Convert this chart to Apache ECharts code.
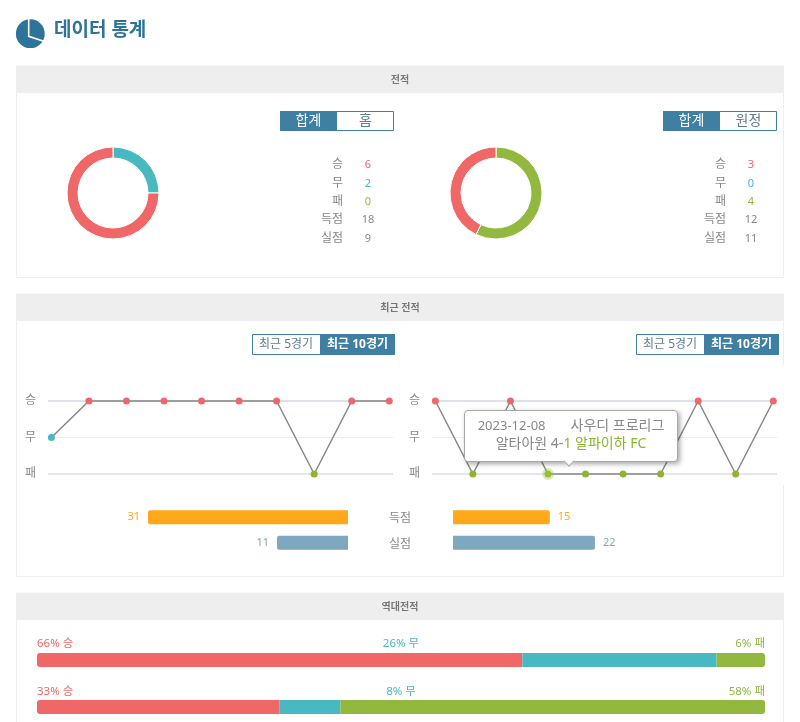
<!DOCTYPE html>
<html>
<head>
<meta charset="utf-8">
<title>데이터 통계</title>
<script src="https://cdn.jsdelivr.net/npm/echarts@6/dist/echarts.min.js"></script>
<style>
  html, body { margin: 0; padding: 0; background: #fff; }
  #main { width: 800px; height: 722px; }
</style>
</head>
<body>
<div id="main"></div>
<script>
// 전적
const statLabels = ['승', '무', '패', '득점', '실점'];
const homeStats = [6, 2, 0, 18, 9];
const awayStats = [3, 0, 4, 12, 11];

// 최근 전적 (0 패, 1 무, 2 승)
const formLabels = ['패', '무', '승'];
const homeForm = [1, 2, 2, 2, 2, 2, 2, 0, 2, 2];
const awayForm = [2, 0, 2, 0, 0, 0, 0, 2, 0, 2];
const goalLabels = ['득점', '실점'];
const homeGoals = [31, 11];
const awayGoals = [15, 22];

// 역대전적
const h2hWin = [66.67, 33.33];
const h2hDraw = [26.67, 8.34];
const h2hLoss = [6.66, 58.33];

const RED = '#ef6767';
const TEAL = '#48b8c1';
const GREEN = '#92b83f';
const DOT_GREEN = '#8db52e';
const ORANGE = '#ffa81a';
const STEEL = '#7da8bf';
const BLUE = '#3f7fa2';
const GRAY = '#888';
const FONT = '"Noto Sans", "Noto Sans CJK KR", sans-serif';
const formColors = [DOT_GREEN, TEAL, RED];

const chart = echarts.init(document.getElementById('main'));

function label(x, y, text, fill, size, align, weight) {
  return {
    type: 'text',
    silent: true,
    style: {
      x: x,
      y: y,
      text: text,
      fill: fill,
      font: (weight || 'normal') + ' ' + size + 'px ' + FONT,
      textAlign: align || 'center',
      textVerticalAlign: 'middle'
    }
  };
}

function box(x, y, width, height, fill, stroke) {
  return {
    type: 'rect',
    silent: true,
    shape: { x: x, y: y, width: width, height: height },
    style: { fill: fill, stroke: stroke || null, lineWidth: stroke ? 1 : 0 }
  };
}

function panel(top, bottom, title) {
  return [
    box(16.5, top, 767, bottom - top, '#fff', '#eeeeee'),
    box(16, top, 768, 27, '#eeeeee'),
    label(400, top + 14.5, title, '#777', 10, 'center', 'bold')
  ];
}

function tab(x, y, leftW, rightW, leftText, rightText, activeLeft, size) {
  const h = y === 111 ? 20 : 21;
  const parts = [box(x + 0.5, y + 0.5, leftW + rightW - 1, h - 1, '#fff', BLUE)];
  parts.push(activeLeft ? box(x, y, leftW, h, BLUE) : box(x + leftW, y, rightW, h, BLUE));
  parts.push(label(x + leftW / 2, y + h / 2, leftText, activeLeft ? '#fff' : '#5d7f92', size, 'center'));
  parts.push(label(x + leftW + rightW / 2, y + h / 2, rightText, activeLeft ? '#5d7f92' : '#fff', size, 'center', activeLeft ? 'normal' : 'bold'));
  return parts;
}

function statColumn(labelX, valueX, values) {
  const rows = [164, 183, 201, 219, 238];
  const colors = [RED, TEAL, GREEN, GRAY, GRAY];
  const parts = [];
  rows.forEach(function (y, i) {
    parts.push(label(labelX, y + 1, statLabels[i], GRAY, 12, 'right'));
    parts.push(label(valueX, y + 1, String(values[i]), colors[i], 11));
  });
  return parts;
}

function h2hRow(y, i) {
  return [
    label(37, y, Math.floor(h2hWin[i]) + '% 승', RED, 11.5, 'left'),
    label(401, y, Math.floor(h2hDraw[i]) + '% 무', TEAL, 11.5),
    label(765, y, Math.floor(h2hLoss[i]) + '% 패', GREEN, 11.5, 'right')
  ];
}

const graphics = [].concat(
  [
    { type: 'circle', silent: true, shape: { cx: 30.3, cy: 33.7, r: 14.4 }, style: { fill: '#2e739a' } },
    { type: 'polyline', silent: true, shape: { points: [[28.7, 17], [28.7, 36.3], [46, 42]] }, style: { fill: null, stroke: '#fff', lineWidth: 1.6 } },
    label(54, 31, '데이터 통계', '#2e739a', 19, 'left', 'bold')
  ],
  panel(66, 277.5, '전적'),
  panel(294, 576.5, '최근 전적'),
  panel(593, 730, '역대전적'),
  [box(782, 365, 3, 120, '#fff')],
  tab(280, 111, 57, 57, '합계', '홈', true, 14),
  tab(663, 111, 57, 57, '합계', '원정', true, 14),
  tab(252, 334, 68, 75, '최근 5경기', '최근 10경기', false, 12),
  tab(636, 334, 68, 75, '최근 5경기', '최근 10경기', false, 12),
  statColumn(343, 368, homeStats),
  statColumn(726, 751, awayStats),
  h2hRow(644, 0),
  h2hRow(692, 1)
);

function donut(center, items) {
  return {
    type: 'pie',
    center: center,
    radius: [35, 46],
    startAngle: 90,
    silent: true,
    label: { show: false },
    labelLine: { show: false },
    itemStyle: { borderColor: '#fff', borderWidth: 1 },
    data: items
  };
}

function formGrid(left) {
  return { left: left, width: 345, top: 401, height: 73 };
}

function formRefSeries(idx) {
  return {
    type: 'line',
    xAxisIndex: idx,
    yAxisIndex: idx,
    z: 1,
    silent: true,
    data: [],
    markLine: {
      z: 1,
      silent: true,
      symbol: 'none',
      animation: false,
      label: { show: false },
      data: [
        { yAxis: 2, lineStyle: { color: '#dde1ea', width: 2, type: 'solid' } },
        { yAxis: 1, lineStyle: { color: '#eeeeee', width: 1, type: 'solid' } },
        { yAxis: 0, lineStyle: { color: '#e6e6ea', width: 2, type: 'solid' } }
      ]
    }
  };
}

function formSeries(idx, values) {
  return {
    type: 'line',
    xAxisIndex: idx,
    yAxisIndex: idx,
    z: 3,
    clip: false,
    symbol: 'circle',
    symbolSize: 7,
    lineStyle: { color: GRAY, width: 1.5 },
    emphasis: {
      scale: false,
      lineStyle: { color: GRAY, width: 1.5 },
      itemStyle: { borderColor: 'rgba(141,181,46,0.3)', borderWidth: 5 }
    },
    data: values.map(function (v, i) {
      return { value: [i, v], itemStyle: { color: formColors[v] } };
    })
  };
}

function goalSeries(idx, values, side) {
  return {
    type: 'bar',
    xAxisIndex: idx,
    yAxisIndex: idx,
    barWidth: 14,
    silent: true,
    label: {
      show: true,
      position: side,
      distance: 8,
      fontSize: 11,
      fontFamily: FONT
    },
    data: values.map(function (v, i) {
      const color = i === 0 ? ORANGE : STEEL;
      return {
        value: v,
        itemStyle: { color: color, borderRadius: side === 'left' ? [2, 0, 0, 2] : [0, 2, 2, 0] },
        label: { color: color }
      };
    })
  };
}

function h2hSeries(values, color, radius) {
  return {
    type: 'bar',
    stack: 'h2h',
    xAxisIndex: 5,
    yAxisIndex: 5,
    barWidth: 14,
    clip: false,
    silent: true,
    itemStyle: { color: color, borderRadius: radius },
    data: values
  };
}

const hiddenX = { show: false, type: 'value', min: -0.09, max: 9.1 };
const formY = {
  type: 'value',
  min: 0,
  max: 2,
  interval: 1,
  axisLine: { show: false },
  axisTick: { show: false },
  splitLine: { show: false },
  axisLabel: {
    margin: 12,
    color: GRAY,
    fontSize: 12,
    fontFamily: FONT,
    padding: [0, 0, 4, 0],
    formatter: function (v) { return formLabels[v]; }
  }
};

function goalX(inverse) {
  return { show: false, type: 'value', min: 0, max: 31, inverse: inverse };
}

function goalY(showLabels) {
  return {
    type: 'category',
    inverse: true,
    position: 'right',
    data: goalLabels,
    axisLine: { show: false },
    axisTick: { show: false },
    axisLabel: {
      show: showLabels,
      margin: 52,
      align: 'center',
      color: GRAY,
      fontSize: 12,
      fontFamily: FONT
    }
  };
}

chart.setOption({
  animation: false,
  textStyle: { fontFamily: FONT },
  graphic: { elements: graphics },
  tooltip: {
    show: true,
    trigger: 'item',
    alwaysShowContent: true,
    transitionDuration: 0,
    padding: 0,
    backgroundColor: '#fff',
    borderColor: '#a8a8a8',
    borderWidth: 1,
    extraCssText: 'border-radius:4px;box-shadow:2px 2px 5px rgba(0,0,0,.35);width:212px;height:50px;',
    position: function () { return [464, 410]; },
    formatter: function () {
      return '<div style="position:relative;height:50px;font:14px/18px ' + FONT.replace(/"/g, "'") + ';color:' + GRAY + ';text-align:center;">' +
        '<div style="padding-top:5px;white-space:pre;"><span style="font-size:13px">2023-12-08</span><span style="margin-left:25px">사우디 프로리그</span></div>' +
        '<div style="white-space:pre;">알타아원 4-<span style="color:' + DOT_GREEN + '">1 알파이하 FC</span></div>' +
        '<div style="position:absolute;left:100px;top:46px;width:7px;height:7px;background:#fff;transform:rotate(45deg);border-right:1px solid #a8a8a8;border-bottom:1px solid #a8a8a8;"></div>' +
        '</div>';
    }
  },
  grid: [
    formGrid(48),
    formGrid(432),
    { left: 148, width: 200, top: 504.5, height: 51 },
    { left: 453, width: 200, top: 504.5, height: 51 },
    { left: 148, width: 200, top: 506, height: 51 },
    { left: 37, width: 728, top: 660, height: 47 }
  ],
  xAxis: [
    Object.assign({ gridIndex: 0 }, hiddenX),
    Object.assign({ gridIndex: 1 }, hiddenX),
    Object.assign({ gridIndex: 2 }, goalX(true)),
    Object.assign({ gridIndex: 3 }, goalX(false)),
    Object.assign({ gridIndex: 4 }, goalX(true)),
    { gridIndex: 5, show: false, type: 'value', min: 0, max: 100 }
  ],
  yAxis: [
    Object.assign({ gridIndex: 0 }, formY),
    Object.assign({ gridIndex: 1 }, formY),
    Object.assign({ gridIndex: 2 }, goalY(false)),
    Object.assign({ gridIndex: 3 }, goalY(false)),
    Object.assign({ gridIndex: 4 }, goalY(true)),
    { gridIndex: 5, show: false, type: 'category', inverse: true, boundaryGap: false, data: ['home', 'away'] }
  ],
  series: [
    donut([113, 193], [
      { value: homeStats[2], name: '패', itemStyle: { color: GREEN } },
      { value: homeStats[1], name: '무', itemStyle: { color: TEAL } },
      { value: homeStats[0], name: '승', itemStyle: { color: RED } }
    ]),
    donut([496, 193], [
      { value: awayStats[2], name: '패', itemStyle: { color: GREEN } },
      { value: awayStats[1], name: '무', itemStyle: { color: TEAL } },
      { value: awayStats[0], name: '승', itemStyle: { color: RED } }
    ]),
    formRefSeries(0),
    formRefSeries(1),
    formSeries(0, homeForm),
    formSeries(1, awayForm),
    goalSeries(2, homeGoals, 'left'),
    goalSeries(3, awayGoals, 'right'),
    h2hSeries(h2hWin, RED, [3, 0, 0, 3]),
    h2hSeries(h2hDraw, TEAL, 0),
    h2hSeries(h2hLoss, GREEN, [0, 3, 3, 0])
  ]
});

chart.dispatchAction({ type: 'highlight', seriesIndex: 5, dataIndex: 3 });
chart.dispatchAction({ type: 'showTip', seriesIndex: 5, dataIndex: 3 });
</script>
</body>
</html>
